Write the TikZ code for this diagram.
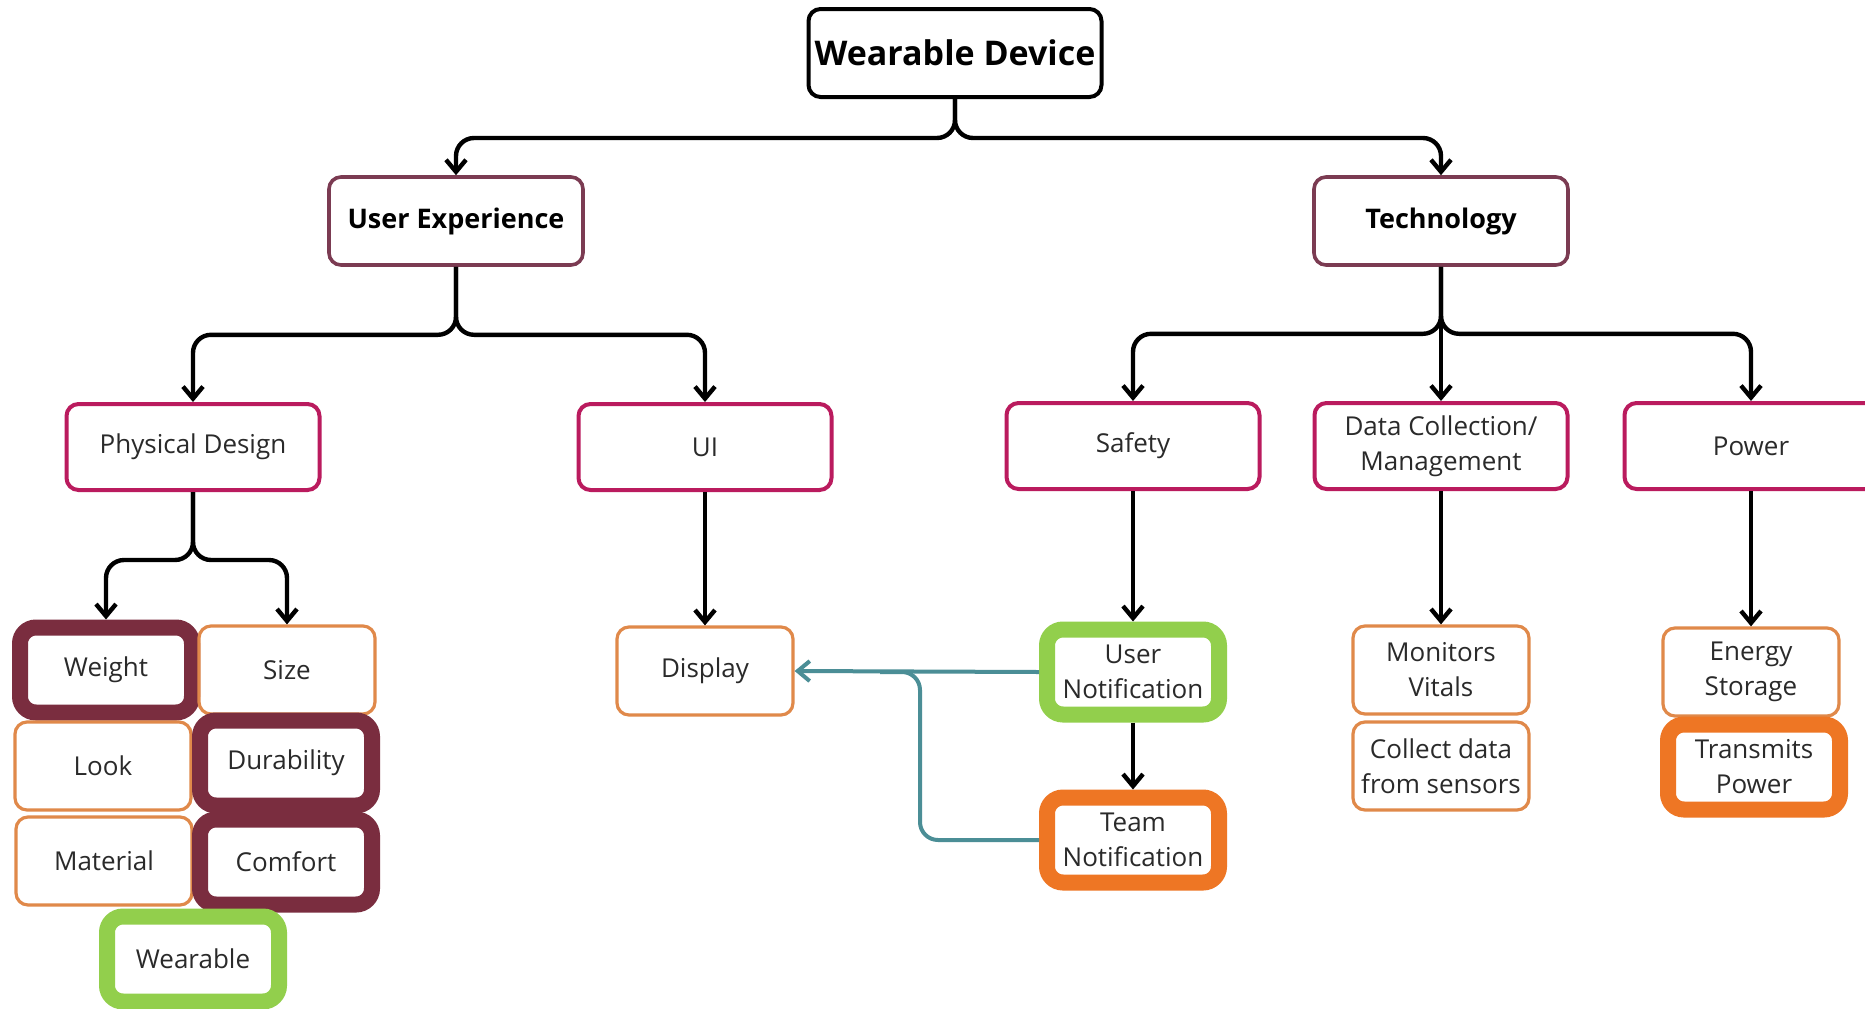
\documentclass[tikz,border=0pt]{standalone}
\usepackage{fontspec}
\setmainfont{Open Sans}
\usetikzlibrary{arrows.meta}

\definecolor{headcol}{HTML}{7B3B52}
\definecolor{subcol}{HTML}{BA1B5E}
\definecolor{leafcol}{HTML}{E0894A}
\definecolor{marooncol}{HTML}{7A2D3F}
\definecolor{greencol}{HTML}{92CF4C}
\definecolor{orangecol}{HTML}{EE7624}
\definecolor{tealcol}{HTML}{4B8E96}
\definecolor{txtcol}{HTML}{2A2A2A}

\begin{document}
\begin{tikzpicture}[x=0.5pt,y=-0.5pt,
    box/.style={draw,rounded corners=6pt,align=center,text=txtcol,inner sep=0pt,
      font=\fontsize{13}{17.5}\selectfont},
    topbox/.style={box,draw=black,text=black,line width=2pt,minimum width=146.5pt,
      minimum height=44pt,font=\fontsize{17}{20}\selectfont\bfseries},
    headbox/.style={box,draw=headcol,text=black,line width=1.8pt,minimum width=127pt,
      minimum height=44pt,font=\fontsize{13.5}{16}\selectfont\bfseries},
    subbox/.style={box,draw=subcol,line width=2pt,minimum width=126.5pt,minimum height=43pt},
    leafbox/.style={box,draw=leafcol,line width=1.6pt,minimum width=88pt,minimum height=44pt},
    markbox/.style={box,line width=8pt,rounded corners=8pt,minimum width=86pt,minimum height=42.5pt},
    link/.style={line width=2.2pt,rounded corners=9pt,
      -{Straight Barb[length=6pt,width=10pt]}},
    tealline/.style={draw=tealcol,line width=2pt,rounded corners=9pt}]

  \useasboundingbox[fill=white] (0,0) rectangle (1865,1008);
  \clip (0,0) rectangle (1865,1008);

  % top and main branches
  \node[topbox] (dev) at (955,53) {Wearable Device};
  \node[headbox] (ux) at (456,221) {User Experience};
  \node[headbox] (tech) at (1441,221) {Technology};

  \node[subbox] (phys) at (193,447) {Physical Design};
  \node[subbox] (ui) at (705,447) {UI};
  \node[subbox] (safety) at (1133,446) {Safety};
  \node[subbox] (data) at (1441,446) {Data Collection/\\Management};
  \node[subbox] (power) at (1751,446) {Power};

  % physical design grid
  \node[markbox,draw=marooncol] (weight) at (106,670) {Weight};
  \node[leafbox] (size) at (287,670) {Size};
  \node[leafbox] (look) at (103,766) {Look};
  \node[markbox,draw=marooncol] (durab) at (286,763) {Durability};
  \node[leafbox] (material) at (104,861) {Material};
  \node[markbox,draw=marooncol] (comfort) at (286,862) {Comfort};
  \node[markbox,draw=greencol] (wearable) at (193,959) {Wearable};

  \node[leafbox] (display) at (705,671) {Display};
  \node[markbox,draw=greencol] (unotif) at (1133,672) {User\\Notification};
  \node[markbox,draw=orangecol] (tnotif) at (1133,840) {Team\\Notification};

  \node[leafbox] (monitors) at (1441,670) {Monitors\\Vitals};
  \node[leafbox] (collect) at (1441,766) {Collect data\\from sensors};
  \node[leafbox] (energy) at (1751,672) {Energy\\Storage};
  \node[markbox,draw=orangecol] (transmits) at (1754,767) {Transmits\\Power};

  \draw[link] (dev.south) -- ++(0,39) -| (ux.north);
  \draw[link] (dev.south) -- ++(0,39) -| (tech.north);

  \draw[link] (ux.south) -- ++(0,68) -| (phys.north);
  \draw[link] (ux.south) -- ++(0,68) -| (ui.north);

  \draw[link] (tech.south) -- ++(0,67) -| (safety.north);
  \draw[link] (tech.south) -- (data.north);
  \draw[link] (tech.south) -- ++(0,67) -| (power.north);

  \draw[link] (phys.south) -- ++(0,68) -| (weight.north);
  \draw[link] (phys.south) -- ++(0,68) -| (size.north);

  \draw[link] (ui.south) -- (display.north);
  \draw[link] (safety.south) -- (unotif.north);
  \draw[link] (unotif.south) -- (tnotif.north);
  \draw[link] (data.south) -- (monitors.north);
  \draw[link] (power.south) -- (energy.north);

  % notification links
  \coordinate (tbend) at (920,672);
  \draw[tealline,-{Straight Barb[length=6pt,width=10pt]}] (unotif.west) -- (display.east);
  \draw[tealline] (tnotif.west) -| (tbend) -- ++(-40,0);
\end{tikzpicture}
\end{document}
